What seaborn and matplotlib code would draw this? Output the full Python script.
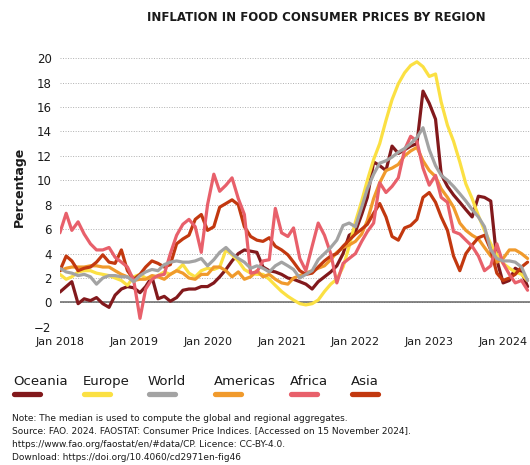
import matplotlib
matplotlib.use('Agg')
import matplotlib.pyplot as plt
from matplotlib.lines import Line2D
import pandas as pd
import seaborn as sns

# monthly food CPI inflation (%), Jan 2018 - May 2024
months = pd.date_range('2018-01-01', periods=77, freq='MS')

oceania = [0.85, 1.3, 1.7, -0.1, 0.3, 0.15, 0.4, -0.1, -0.4, 0.6,
           1.1, 1.3, 1.2, 0.8, 1.3, 2.1, 0.3, 0.5, 0.1, 0.4,
           1.0, 1.1, 1.1, 1.3, 1.3, 1.6, 2.1, 2.7, 3.4, 4.0,
           4.3, 4.2, 4.1, 2.9, 2.6, 2.5, 2.3, 2.0, 1.9, 1.7,
           1.5, 1.1, 1.7, 2.1, 2.5, 3.0, 4.0, 5.5, 5.8, 7.2,
           8.6, 11.5, 11.2, 10.8, 12.8, 12.2, 12.5, 12.8, 13.0, 17.3,
           16.3, 15.0, 10.5, 9.5, 8.8, 8.2, 7.6, 7.0, 8.7, 8.6,
           8.3, 3.5, 1.6, 1.8, 2.8, 2.5, 1.3]
europe = [2.3, 1.9, 2.1, 2.5, 2.6, 2.6, 2.4, 2.3, 2.2, 2.0,
          1.8, 1.4, 2.1, 2.3, 2.0, 2.0, 2.2, 2.5, 2.3, 2.6,
          3.1, 2.4, 2.1, 2.6, 2.8, 2.7, 2.9, 4.3, 3.9, 3.4,
          2.7, 2.4, 2.3, 2.3, 1.9, 1.4, 0.9, 0.5, 0.2, -0.1,
          -0.2, -0.1, 0.2, 0.9, 1.5, 1.9, 2.9, 4.6, 6.6, 8.3,
          10.0, 11.7, 13.0, 14.9, 16.6, 17.9, 18.8, 19.4, 19.7, 19.3,
          18.5, 18.7, 16.4, 14.5, 13.2, 11.5, 9.7, 8.5, 7.1, 5.9,
          4.8, 3.9, 3.2, 2.8, 2.5, 2.3, 1.8]
world = [2.8, 2.5, 2.4, 2.2, 2.3, 2.1, 1.5, 2.0, 2.2, 2.2,
         2.1, 2.1, 1.7, 2.2, 2.5, 2.7, 2.6, 3.1, 3.3, 3.4,
         3.3, 3.3, 3.4, 3.6, 3.0, 3.5, 4.1, 4.5, 4.0, 3.6,
         3.3, 2.8, 3.0, 2.8, 2.5, 3.0, 3.3, 3.0, 2.7, 2.0,
         2.3, 2.6, 3.5, 4.0, 4.5, 5.1, 6.3, 6.5, 6.2, 7.8,
         9.3, 10.5, 11.4, 11.6, 11.9, 12.3, 12.6, 13.0, 13.5, 14.3,
         12.5, 11.2, 10.4, 10.0, 9.5, 8.9, 8.3, 7.6, 7.0, 6.2,
         4.3, 3.6, 3.4, 3.4, 3.3, 2.9, 1.8]
americas = [2.6, 2.8, 2.9, 2.9, 2.9, 3.0, 3.0, 2.9, 2.9, 2.6,
            2.3, 2.1, 1.8, 1.9, 1.9, 2.2, 2.1, 1.9, 2.3, 2.6,
            2.4, 2.0, 1.9, 2.3, 2.3, 2.9, 2.9, 2.6, 2.1, 2.5,
            1.9, 2.1, 2.6, 2.1, 2.3, 1.9, 1.6, 1.5, 2.0, 2.2,
            2.4, 2.6, 2.8, 3.0, 3.5, 4.1, 4.5, 4.7, 5.0, 5.6,
            6.7, 8.5, 9.8, 10.8, 11.0, 11.3, 12.0, 12.4, 12.7, 11.6,
            10.8, 10.3, 9.3, 8.6, 7.8, 6.5, 5.9, 5.5, 5.2, 4.5,
            3.8, 3.3, 3.6, 4.3, 4.3, 4.0, 3.6]
africa = [5.7, 7.3, 5.9, 6.6, 5.6, 4.8, 4.3, 4.3, 4.5, 3.7,
          3.3, 2.9, 1.8, -1.3, 1.1, 1.9, 2.2, 2.3, 4.0, 5.5,
          6.4, 6.8, 6.2, 4.1, 8.0, 10.5, 9.1, 9.6, 10.2, 8.5,
          7.2, 2.4, 2.5, 3.4, 3.5, 7.7, 5.7, 5.4, 6.1, 3.6,
          2.6, 4.6, 6.5, 5.5, 4.0, 1.6, 3.2, 3.6, 4.0, 5.0,
          5.8, 6.5, 9.8, 9.0, 9.5, 10.2, 12.5, 13.6, 13.2, 11.0,
          9.6, 10.4, 8.6, 8.2, 5.8, 5.6, 5.1, 4.6, 3.8, 2.6,
          3.0, 4.8, 3.2, 2.3, 1.6, 1.8, 1.0]
asia = [2.6, 3.8, 3.4, 2.6, 2.8, 2.9, 3.3, 3.9, 3.3, 3.2,
        4.3, 2.6, 1.9, 2.3, 2.9, 3.4, 3.2, 2.9, 3.1, 4.8,
        5.2, 5.5, 6.8, 7.2, 5.9, 6.2, 7.8, 8.1, 8.4, 8.0,
        6.2, 5.4, 5.1, 5.0, 5.3, 4.6, 4.3, 3.9, 3.3, 2.6,
        2.3, 2.4, 2.9, 3.4, 3.8, 4.0, 4.6, 5.1, 5.6, 6.0,
        6.4, 7.3, 8.1, 7.0, 5.4, 5.1, 6.1, 6.3, 6.8, 8.6,
        9.0, 8.2, 7.0, 5.9, 3.8, 2.6, 4.0, 4.7, 5.3, 5.5,
        4.3, 2.4, 1.8, 2.0, 2.3, 2.9, 3.3]

regions = ['Oceania', 'Europe', 'World', 'Americas', 'Africa', 'Asia']
colors = {'Oceania': '#82191c', 'Europe': '#fbe043', 'World': '#a3a3a3',
          'Americas': '#f09a2c', 'Africa': '#e8606b', 'Asia': '#c2380f'}
draw_order = ['Oceania', 'Europe', 'Americas', 'Asia', 'Africa', 'World']

df = pd.DataFrame({'date': months, 'Oceania': oceania, 'Europe': europe,
                   'World': world, 'Americas': americas,
                   'Africa': africa, 'Asia': asia})
df_long = df.melt(id_vars='date', var_name='region', value_name='value')

sns.set_style('white')
plt.rcParams['font.family'] = ['DejaVu Sans']
text_col = '#1a1a1a'

fig = plt.figure(figsize=(5.3, 4.65), dpi=100)
ax = fig.add_axes([0.113, 0.297, 0.887, 0.578])

# grid + zero line under the series
ax.set_ylim(-2, 20)
ax.set_yticks(range(-2, 21, 2))
ax.yaxis.grid(True, linestyle=(0, (1, 1.6)), color='#b0b0b0', linewidth=0.7)
ax.set_axisbelow(True)
ax.axhline(0, color='#666666', linewidth=1.1, zorder=1)

sns.lineplot(data=df_long, x='date', y='value', hue='region',
             hue_order=draw_order, palette=colors, linewidth=2.3,
             legend=False, ax=ax)

for s in ax.spines.values():
    s.set_visible(False)

ticks = pd.date_range('2018-01-01', '2024-01-01', freq='6MS')
ax.set_xticks(ticks)
ax.set_xticklabels(['Jan %d' % t.year if t.month == 1 else '' for t in ticks])
ax.set_xlim(months[0], pd.Timestamp('2024-05-13'))
ax.tick_params(axis='x', direction='inout', length=7, width=0.8,
               color='#777777', pad=4, labelsize=8, labelcolor=text_col)
ax.tick_params(axis='y', length=0, pad=6, labelsize=8.5, labelcolor=text_col)
ax.set_xlabel('')
ax.set_ylabel('')

fig.text(0.596, 0.963, 'INFLATION IN FOOD CONSUMER PRICES BY REGION',
         ha='center', va='center', fontsize=8.5, fontweight='bold', color=text_col)
fig.text(0.036, 0.598, 'Percentage', rotation=90, ha='center', va='center',
         fontsize=9, fontweight='bold', color=text_col)

# legend: label on top, coloured bar below
label_x = [13, 83, 148, 214, 290, 351]
for name, lx in zip(regions, label_x):
    fig.text(lx / 530, 0.179, name, ha='left', va='center',
             fontsize=9.5, color=text_col)
    fig.add_artist(Line2D([(lx + 1) / 530, (lx + 27) / 530], [0.152, 0.152],
                          color=colors[name], linewidth=3.8,
                          solid_capstyle='round', transform=fig.transFigure))

notes = ['Note: The median is used to compute the global and regional aggregates.',
         'Source: FAO. 2024. FAOSTAT: Consumer Price Indices. [Accessed on 15 November 2024].',
         'https://www.fao.org/faostat/en/#data/CP. Licence: CC-BY-4.0.',
         'Download: https://doi.org/10.4060/cd2971en-fig46']
for i, line in enumerate(notes):
    fig.text(12 / 530, 1 - (418 + 13 * i) / 465, line, ha='left', va='center',
             fontsize=6.5, color=text_col)

fig.savefig('out.png', dpi=100)
